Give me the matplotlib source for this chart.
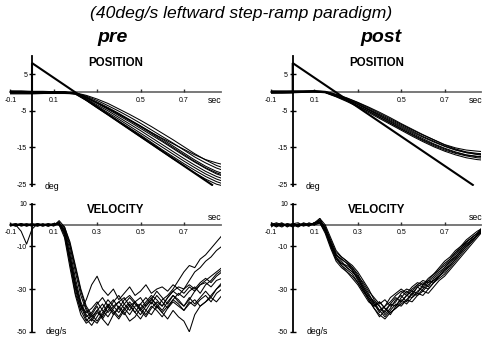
import numpy as np
import matplotlib
matplotlib.use("Agg")
import matplotlib.pyplot as plt

plt.rcParams['font.family'] = ['Liberation Sans', 'DejaVu Sans']

# ---------------- data ----------------
# eye position samples (deg)
t_pos = [-0.1, -0.05, 0.0, 0.05, 0.1, 0.15, 0.2, 0.25, 0.3, 0.35, 0.4,
         0.45, 0.5, 0.55, 0.6, 0.65, 0.7, 0.75, 0.8, 0.85, 0.87]

pos_pre = [
    [0.3, 0.3, 0.2, 0.2, 0.2, 0.1, -0.3, -1.4, -2.9, -4.4, -6.0, -7.6, -9.2, -10.9, -12.5, -14.0, -15.5, -17.0, -18.3, -19.2, -19.5],
    [0.2, 0.2, 0.1, 0.1, 0.0, 0.0, -0.1, -0.8, -1.8, -3.0, -4.5, -6.0, -7.6, -9.3, -11.1, -12.9, -14.8, -16.7, -18.4, -19.9, -20.3],
    [-0.2, -0.2, -0.3, -0.3, -0.2, -0.2, -0.2, -1.0, -2.2, -3.6, -5.1, -6.7, -8.4, -10.2, -12.0, -13.8, -15.7, -17.6, -19.2, -20.6, -21.0],
    [0.4, 0.4, 0.3, 0.3, 0.2, 0.2, -0.1, -1.2, -2.6, -4.1, -5.7, -7.4, -9.1, -10.9, -12.7, -14.6, -16.5, -18.4, -20.1, -21.5, -21.9],
    [0.0, 0.0, -0.1, -0.1, 0.0, 0.0, -0.3, -1.5, -3.0, -4.6, -6.3, -8.0, -9.8, -11.6, -13.4, -15.3, -17.2, -19.0, -20.7, -22.2, -22.6],
    [-0.4, -0.4, -0.4, -0.3, -0.3, -0.3, -0.4, -1.7, -3.4, -5.0, -6.8, -8.6, -10.4, -12.3, -14.2, -16.1, -18.0, -19.8, -21.5, -22.9, -23.3],
    [0.1, 0.1, 0.0, 0.0, 0.1, 0.0, -0.4, -1.9, -3.7, -5.5, -7.3, -9.2, -11.1, -13.0, -14.9, -16.8, -18.7, -20.5, -22.2, -23.6, -24.0],
    [0.3, 0.2, 0.2, 0.2, 0.1, 0.1, -0.4, -2.1, -4.0, -5.9, -7.8, -9.7, -11.6, -13.6, -15.6, -17.5, -19.4, -21.2, -22.9, -24.3, -24.7],
    [-0.1, -0.1, -0.1, 0.0, 0.0, -0.1, -0.5, -2.2, -4.2, -6.1, -8.1, -10.1, -12.1, -14.1, -16.1, -18.1, -20.0, -21.9, -23.6, -25.0, -25.3],
    [0.0, 0.1, 0.1, 0.1, 0.1, 0.0, -0.2, -1.3, -2.8, -4.3, -5.9, -7.6, -9.4, -11.2, -13.1, -15.0, -16.9, -18.8, -20.5, -21.9, -22.3],
]

pos_post = [
    [0.3, 0.3, 0.3, 0.3, 0.4, 0.2, -0.6, -1.6, -2.8, -4.2, -5.7, -7.2, -8.7, -10.2, -11.6, -12.9, -14.2, -15.1, -15.7, -16.0, -16.1],
    [0.2, 0.2, 0.3, 0.3, 0.3, 0.1, -0.8, -1.9, -3.2, -4.7, -6.2, -7.8, -9.3, -10.8, -12.2, -13.5, -14.7, -15.7, -16.4, -16.8, -16.9],
    [0.0, 0.1, 0.1, 0.2, 0.2, 0.0, -1.0, -2.2, -3.6, -5.1, -6.7, -8.3, -9.9, -11.4, -12.9, -14.2, -15.4, -16.4, -17.1, -17.5, -17.6],
    [-0.2, -0.2, -0.1, 0.0, 0.1, -0.1, -1.2, -2.5, -3.9, -5.5, -7.1, -8.7, -10.3, -11.9, -13.4, -14.8, -16.0, -17.0, -17.8, -18.3, -18.4],
    [0.4, 0.4, 0.4, 0.4, 0.5, 0.3, -0.5, -1.5, -2.7, -4.0, -5.4, -6.9, -8.5, -10.0, -11.5, -12.9, -14.3, -15.4, -16.2, -16.6, -16.7],
    [0.1, 0.1, 0.2, 0.2, 0.2, 0.0, -0.9, -2.0, -3.3, -4.8, -6.4, -8.0, -9.6, -11.1, -12.6, -14.0, -15.2, -16.2, -17.0, -17.4, -17.5],
    [-0.1, 0.0, 0.0, 0.1, 0.2, 0.0, -1.1, -2.3, -3.7, -5.2, -6.8, -8.4, -10.0, -11.6, -13.1, -14.5, -15.7, -16.6, -17.3, -17.8, -17.9],
    [0.3, 0.2, 0.2, 0.3, 0.3, 0.1, -0.7, -1.8, -3.0, -4.5, -6.0, -7.5, -9.0, -10.5, -12.0, -13.3, -14.6, -15.6, -16.4, -16.9, -17.1],
]

# target: 8 deg step at t=0 followed by a 40 deg/s ramp
target_t = [-0.1, 0.0, 0.0, 0.83]
target_y = [0.0, 0.0, 8.0, -25.2]

# eye velocity samples (deg/s)
t_vel = [-0.1, -0.075, -0.05, -0.025, 0.0, 0.025, 0.05, 0.075, 0.1, 0.125,
         0.15, 0.175, 0.2, 0.225, 0.25, 0.275, 0.3, 0.325, 0.35, 0.375,
         0.4, 0.425, 0.45, 0.475, 0.5, 0.525, 0.55, 0.575, 0.6, 0.625,
         0.65, 0.675, 0.7, 0.725, 0.75, 0.775, 0.8, 0.825, 0.85, 0.875]

vel_pre = [
    [0, -0.5, 0.5, 0, -0.5, 0.5, 0, -0.5, 0.5, 0,
     -6, -20, -33, -42, -46, -44, -40, -37, -41, -38,
     -36, -39, -42, -38, -37, -40, -36, -39, -35, -33,
     -30, -26, -22, -19, -20, -16, -14, -11, -8, -5],
    [0, 0.5, -0.5, 0, 0.5, -0.5, 0, 0.5, 0, 1,
     -3, -15, -28, -38, -44, -47, -43, -39, -35, -38,
     -41, -37, -34, -37, -40, -43, -39, -36, -38, -34,
     -31, -29, -30, -26, -22, -20, -17, -15, -12, -10],
    [0.5, 0, -3, -9, -2, 0.5, 0, -0.5, 0.5, 0,
     -4, -17, -30, -40, -45, -42, -38, -44, -40, -36,
     -33, -37, -40, -36, -34, -38, -35, -31, -34, -37,
     -33, -35, -38, -35, -31, -28, -26, -24, -22, -20],
    [0, -0.5, 0, 0.5, 0, -0.5, 0.5, 0, -0.5, 0.5,
     -2, -12, -25, -36, -42, -45, -41, -43, -38, -41,
     -44, -40, -37, -41, -44, -40, -42, -38, -41, -44,
     -40, -43, -45, -50, -42, -38, -36, -33, -30, -28],
    [-0.5, 0, 0.5, 0, -0.5, 0, 0.5, -0.5, 0, 1,
     -5, -18, -32, -40, -35, -28, -24, -30, -33, -30,
     -35, -32, -29, -33, -31, -28, -32, -30, -29, -31,
     -28, -30, -32, -29, -31, -28, -27, -29, -26, -25],
    [0, 0.5, 0, -0.5, 0.5, 0, -0.5, 0.5, 0, 0.5,
     -2, -10, -22, -33, -40, -44, -46, -42, -38, -35,
     -39, -42, -38, -36, -40, -37, -34, -38, -41, -38,
     -35, -37, -40, -36, -38, -35, -33, -36, -32, -30],
    [0.5, -0.5, 0, 0.5, 0, -0.5, 0, 0.5, -0.5, 2,
     -1, -9, -20, -31, -39, -43, -40, -44, -47, -42,
     -38, -41, -45, -43, -39, -42, -38, -40, -43, -39,
     -36, -38, -40, -37, -35, -38, -36, -34, -36, -33],
    [0, 0, 0.5, -0.5, 0, 0.5, -0.5, 0, 0.5, 0,
     -3, -14, -27, -37, -43, -41, -37, -34, -38, -42,
     -39, -35, -33, -36, -39, -36, -33, -35, -38, -34,
     -31, -33, -30, -28, -30, -27, -25, -27, -24, -22],
    [0, 0.5, -0.5, 0, 0.5, 0, -0.5, 0, 0.5, 0.5,
     -1, -8, -19, -30, -38, -42, -45, -41, -37, -40,
     -43, -39, -36, -39, -42, -38, -35, -37, -40, -36,
     -33, -36, -38, -34, -37, -34, -31, -34, -30, -27],
    [-0.5, 0, 0.5, -0.5, 0, 0.5, 0, -0.5, 0, 1.5,
     -4, -16, -29, -38, -41, -39, -36, -40, -43, -39,
     -36, -34, -38, -41, -37, -34, -37, -33, -36, -39,
     -35, -32, -34, -31, -29, -32, -28, -26, -23, -21],
]

vel_post = [
    [0.5, -1, 0.5, -0.5, 0, -1, 0.5, 0, 1, 2,
     -2, -8, -14, -16, -18, -20, -23, -28, -32, -37,
     -41, -38, -36, -33, -31, -33, -30, -28, -29, -26,
     -23, -20, -17, -15, -12, -10, -7, -5, -3, -1.5],
    [-0.5, 0, 1, -1, 0.5, 0, -0.5, 1, 0, 3,
     0, -6, -12, -15, -17, -19, -22, -26, -30, -35,
     -38, -42, -39, -35, -33, -36, -32, -29, -31, -28,
     -26, -24, -21, -18, -15, -12, -9, -7, -5, -3],
    [0, 0.5, -0.5, 0, -1, 0.5, 0, -0.5, 1, 1,
     -3, -10, -16, -19, -21, -23, -27, -31, -35, -39,
     -43, -40, -37, -38, -34, -31, -33, -29, -27, -29,
     -25, -22, -20, -17, -14, -11, -8, -6, -4, -1],
    [1, 0, -0.5, 0.5, 0, -0.5, 1, 0, 0.5, 2,
     -1, -7, -13, -15, -17, -20, -24, -29, -33, -36,
     -38, -41, -37, -34, -36, -33, -31, -32, -28, -26,
     -27, -24, -21, -19, -16, -13, -10, -8, -5, -3],
    [-1, 0.5, 0, -0.5, 0.5, 1, -0.5, 0, 0, 1,
     -4, -11, -17, -20, -22, -25, -28, -32, -36, -38,
     -36, -39, -42, -38, -35, -37, -34, -32, -33, -30,
     -27, -25, -23, -20, -17, -14, -11, -8, -5, -2.5],
    [0, -0.5, 0.5, 0, -0.5, 0, 0.5, -0.5, 1, 3,
     -2, -9, -15, -18, -19, -21, -25, -30, -34, -37,
     -40, -38, -34, -32, -30, -32, -29, -27, -28, -25,
     -23, -21, -18, -16, -13, -10, -8, -6, -4, -2],
    [0.5, 0, -1, 0.5, 0, -0.5, 0, 0.5, 0.5, 2,
     -1, -8, -14, -17, -20, -22, -25, -29, -33, -36,
     -40, -43, -40, -37, -38, -35, -32, -33, -30, -27,
     -26, -23, -20, -17, -15, -12, -9, -7, -5, -2],
    [0, 1, 0, -0.5, 0.5, -0.5, 0, 0.5, 0, 1,
     -3, -9, -15, -19, -22, -24, -27, -31, -34, -38,
     -36, -39, -41, -39, -36, -33, -34, -31, -29, -30,
     -27, -24, -22, -19, -16, -13, -10, -7, -5, -2],
    [0.5, -0.5, 0, 0.5, -0.5, 0, 0.5, 0, 0.5, 2,
     -2, -9, -14, -16, -18, -21, -26, -30, -35, -39,
     -42, -44, -41, -39, -37, -35, -36, -33, -31, -32,
     -29, -26, -24, -21, -18, -15, -12, -9, -6, -3],
    [0, -0.5, 0.5, 0, 0.5, -0.5, 0, -0.5, 1, 1,
     -3, -10, -16, -18, -20, -22, -24, -27, -31, -34,
     -37, -35, -38, -36, -32, -30, -31, -28, -26, -27,
     -24, -21, -19, -16, -13, -11, -8, -6, -4, -2],
]

pos_yticks = [5, -5, -15, -25]
vel_yticks = [10, -10, -30, -50]
pos_xticklabels = {-0.1: "-0.1", 0.1: "0.1", 0.3: "", 0.5: "0.5", 0.7: "0.7"}
vel_xticklabels = {-0.1: "-0.1", 0.1: "0.1", 0.3: "0.3", 0.5: "0.5", 0.7: "0.7"}

# ---------------- figure ----------------
W, H = 485, 338
fig = plt.figure(figsize=(W / 100, H / 100), dpi=100)

XMIN, XMAX = -0.1, 0.87
PX_PER_SEC = 217.0
axw = (XMAX - XMIN) * PX_PER_SEC


def make_axes(x0_px, top_px, bottom_px):
    left = x0_px - 0.1 * PX_PER_SEC
    return fig.add_axes([left / W, 1 - bottom_px / H, axw / W, (bottom_px - top_px) / H])


def style(ax, ylim, yticks, xlabels, title, title_y, sec_y, sec_va, unit, unit_x):
    ax.set_xlim(XMIN, XMAX)
    ax.set_ylim(*ylim)
    for s in ("top", "right"):
        ax.spines[s].set_visible(False)
    ax.spines["left"].set_position(("data", 0))
    ax.spines["bottom"].set_position(("data", 0))
    ax.spines["left"].set_linewidth(1.3)
    ax.spines["bottom"].set_linewidth(1.3)
    ax.spines["bottom"].set_color("#6e6e6e")
    ax.spines["left"].set_color("black")
    ax.spines["left"].set_zorder(1)
    ax.spines["bottom"].set_zorder(1)
    ax.patch.set_visible(False)
    ax.set_yticks(yticks)
    ax.set_yticklabels([str(v) for v in yticks])
    ax.set_xticks(list(xlabels.keys()))
    ax.set_xticklabels(list(xlabels.values()))
    ax.tick_params(axis="y", direction="inout", length=4, width=1, labelsize=5, pad=1.5)
    ax.tick_params(axis="x", direction="in", length=2.5, width=1, labelsize=5, pad=3,
                   color="#333333")
    ax.text(0.386, title_y, title, ha="center", va="center", fontsize=8.3, fontweight="bold")
    ax.text(0.875, sec_y, "sec", ha="right", va=sec_va, fontsize=6.3, clip_on=False)
    ax.text(unit_x, ylim[0], unit, ha="left", va="center", fontsize=6.3)


# position panels
for x0, traces in ((32.0, pos_pre), (292.7, pos_post)):
    ax = make_axes(x0, 55.7, 186.4)
    for tr in traces:
        ax.plot(t_pos, tr, color="black", lw=0.75, zorder=2)
    ax.plot(target_t, target_y, color="black", lw=1.5, zorder=3, solid_joinstyle="miter")
    style(ax, (-25.6, 10), pos_yticks, pos_xticklabels, "POSITION", 7.9, -1.0, "top",
          "deg", 0.06)

# velocity panels
for x0, traces in ((32.0, vel_pre), (292.7, vel_post)):
    ax = make_axes(x0, 203.5, 331.8)
    for tr in traces:
        ax.plot(t_vel, tr, color="black", lw=0.75, zorder=2)
    style(ax, (-50, 10), vel_yticks, vel_xticklabels, "VELOCITY", 7.0, 1.5, "bottom",
          "deg/s", 0.065)

fig.text(241 / W, 1 - 13.5 / H, "(40deg/s leftward step-ramp paradigm)", ha="center",
         va="center", fontsize=12.6, style="italic")
fig.text(113 / W, 1 - 37 / H, "pre", ha="center", va="center", fontsize=14,
         style="italic", fontweight="bold")
fig.text(381 / W, 1 - 37 / H, "post", ha="center", va="center", fontsize=14,
         style="italic", fontweight="bold")

fig.savefig("out.png", dpi=100)
